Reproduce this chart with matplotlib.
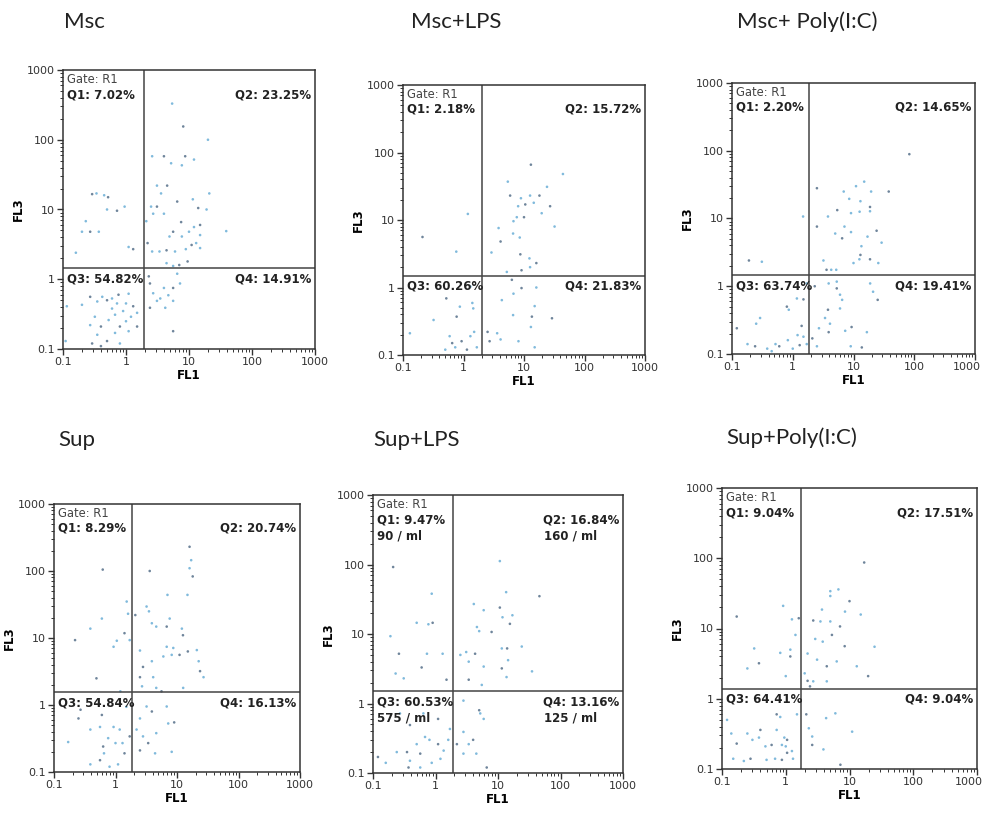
import matplotlib
matplotlib.use("Agg")
import matplotlib.pyplot as plt
import matplotlib.transforms as mtransforms
from matplotlib.ticker import LogLocator, NullFormatter, FixedLocator, FixedFormatter
import numpy as np

plt.rcParams['font.family'] = ['DejaVu Sans']

# panel titles
titles = ['Msc', 'Msc+LPS', 'Msc+ Poly(I:C)', 'Sup', 'Sup+LPS', 'Sup+Poly(I:C)']

# quadrant percentages (Q1, Q2, Q3, Q4)
quad_pct = [
    ['7.02%', '23.25%', '54.82%', '14.91%'],
    ['2.18%', '15.72%', '60.26%', '21.83%'],
    ['2.20%', '14.65%', '63.74%', '19.41%'],
    ['8.29%', '20.74%', '54.84%', '16.13%'],
    ['9.47%', '16.84%', '60.53%', '13.16%'],
    ['9.04%', '17.51%', '64.41%', '9.04%'],
]
# extra concentration lines (only Sup+LPS)
quad_conc = [None, None, None, None, ['90 / ml', '160 / ml', '575 / ml', '125 / ml'], None]

# gate positions (FL1, FL3)
gate_x = [1.9, 2.0, 1.87, 1.87, 1.9, 1.74]
gate_y = [1.45, 1.5, 1.47, 1.55, 1.52, 1.39]

# events (FL1, FL3)
msc_pts = [
    (0.29, 16.6), (0.34, 17), (0.45, 16), (0.52, 15), (0.23, 6.8), (0.2, 4.8), (0.27, 4.8),
    (0.37, 4.8), (0.16, 2.4), (0.72, 9.6), (0.95, 11), (1.1, 2.9), (1.3, 2.7), (0.5, 10),
    (5.4, 330), (8.1, 155), (20, 100), (2.6, 58), (4.0, 58), (5.2, 46), (7.7, 43), (8.7, 58),
    (12, 52), (3.1, 22), (4.5, 22), (3.6, 17), (2.5, 11), (3.1, 11), (2.7, 8.7), (4.0, 8.7),
    (6.5, 13), (11.5, 14), (21, 17), (14, 10.5), (19, 10), (2.1, 6.8), (5.6, 4.8), (4.9, 4.1),
    (7.7, 4.1), (7.5, 6.6), (10, 4.8), (12, 5.6), (15, 6.0), (15, 4.3), (39, 4.9), (2.2, 3.3),
    (2.6, 2.5), (3.4, 2.5), (4.4, 2.6), (6.0, 2.5), (8.9, 2.7), (11, 3.1), (13, 3.3), (15, 2.8),
    (9.5, 1.8), (4.4, 1.7), (5.6, 1.55), (7.0, 1.6),
    (0.115, 0.41), (0.2, 0.43), (0.27, 0.56), (0.35, 0.48), (0.42, 0.56), (0.5, 0.5), (0.6, 0.53),
    (0.72, 0.45), (0.76, 0.6), (1.0, 0.45), (1.1, 0.62), (1.3, 0.41), (1.5, 0.33), (0.32, 0.29),
    (0.4, 0.21), (0.53, 0.26), (0.67, 0.31), (0.8, 0.21), (1.0, 0.25), (1.2, 0.29), (1.5, 0.21),
    (0.27, 0.22), (0.35, 0.16), (0.5, 0.13), (0.67, 0.17), (0.8, 0.12), (0.4, 0.11), (0.11, 0.13),
    (1.1, 0.18), (0.29, 0.12), (0.9, 0.35), (0.6, 0.38),
    (2.4, 0.87), (2.7, 0.63), (3.1, 0.49), (2.4, 0.39), (4.0, 0.75), (4.7, 0.59), (5.6, 0.75),
    (7.2, 0.87), (5.6, 0.49), (5.6, 0.18), (4.2, 0.39), (3.5, 0.53), (2.3, 1.1), (6.5, 1.2),
]
msc_lps_pts = [
    (0.21, 5.6), (0.76, 3.4), (1.18, 12.3),
    (13, 66), (44, 48), (5.4, 37), (5.9, 23), (8.9, 21), (12.6, 23), (18, 23), (24, 31), (8, 16),
    (10.5, 17), (14.5, 18), (19.6, 12.6), (27, 16), (6.7, 9.6), (7.6, 11), (10, 11), (6.6, 6.3),
    (8.5, 5.5), (4.1, 4.8), (3.8, 7.6), (2.9, 3.3), (8.7, 3.1), (12.3, 2.7), (12.6, 2.0), (16, 2.3),
    (32, 8), (5.2, 1.7), (9.1, 1.8),
    (0.13, 0.21), (0.32, 0.33), (0.52, 0.69), (0.87, 0.52), (1.45, 0.49), (0.77, 0.37), (0.59, 0.19),
    (0.73, 0.13), (0.93, 0.16), (1.3, 0.19), (1.5, 0.22), (1.14, 0.12), (1.66, 0.13), (0.5, 0.12),
    (0.65, 0.15), (1.4, 0.59), (1.3, 1.03),
    (2.5, 0.22), (3.6, 0.21), (4.1, 0.17), (2.7, 0.16), (4.3, 0.65), (6.7, 0.81), (9.1, 0.98),
    (16, 1.0), (6.6, 0.39), (13.5, 0.37), (15, 0.53), (13, 0.26), (29, 0.35), (8.1, 0.16),
    (15, 0.13), (6.3, 1.3),
]
msc_poly_pts = [
    (0.19, 2.4), (0.31, 2.3), (1.48, 10.7),
    (83, 89), (15, 35), (11, 30), (2.5, 28), (6.9, 25), (19.5, 25), (38, 25), (8.5, 19.5),
    (13, 18), (18.7, 14.8), (18.7, 12.8), (3.8, 10.7), (5.4, 13.3), (9.1, 12), (12.6, 12.6),
    (2.5, 7.6), (7.1, 7.6), (5.0, 6.0), (6.5, 5.1), (9.1, 6.3), (17, 5.4), (24, 6.6), (29, 4.4),
    (13.5, 3.9), (13, 2.9), (10, 2.2), (12.5, 2.5), (18.7, 2.5), (25.6, 2.2), (3.2, 2.4),
    (3.6, 1.75), (4.3, 1.75), (5.2, 1.75),
    (0.12, 0.24), (0.29, 0.34), (0.25, 0.28), (0.8, 0.5), (0.86, 0.45), (1.17, 0.66), (1.5, 0.64),
    (1.7, 1.1), (0.18, 0.14), (0.24, 0.13), (0.38, 0.12), (0.52, 0.14), (0.6, 0.13), (0.83, 0.16),
    (1.0, 0.12), (1.3, 0.135), (1.7, 0.14), (1.5, 0.18), (1.4, 0.26), (1.2, 0.19), (0.45, 0.11),
    (2.1, 0.17), (2.5, 0.13), (2.7, 0.24), (3.9, 0.21), (4.1, 0.28), (3.4, 0.34), (3.8, 0.45),
    (6.0, 0.47), (6.5, 0.63), (5.3, 0.93), (6.0, 0.75), (7.3, 0.22), (9.3, 0.25), (16.6, 0.21),
    (9.0, 0.13), (13.7, 0.125), (18.8, 1.1), (21, 0.83), (25, 0.63), (5.3, 1.17), (3.9, 1.1),
    (2.3, 1.0),
]
sup_pts = [
    (0.62, 105), (0.60, 19.5), (0.39, 13.8), (0.22, 9.3), (1.05, 9.1), (0.93, 7.4), (0.49, 2.5),
    (1.52, 35), (1.6, 23), (1.4, 11.8), (1.7, 9.3), (1.2, 1.6),
    (16, 230), (17, 145), (16, 110), (18, 83), (7.0, 44), (14.8, 44), (3.6, 100), (3.2, 29.5),
    (3.5, 25), (2.1, 22), (3.9, 16.6), (4.6, 14.8), (6.8, 14.8), (7.6, 19.5), (12, 13.8),
    (12.5, 11), (6.8, 7.4), (8.7, 7.1), (11, 5.6), (8.2, 5.6), (6, 5.3), (15, 6.3), (21, 6.6),
    (22.5, 4.5), (23.7, 3.2), (27, 2.6), (2.5, 6.5), (2.8, 3.7), (3.9, 4.5), (4.1, 2.6), (2.5, 2.6),
    (2.7, 1.9), (4.6, 1.8), (5.6, 1.6), (12.6, 1.8),
    (0.17, 0.28), (0.25, 0.63), (0.39, 0.43), (0.56, 0.47), (0.60, 0.71), (0.93, 0.47), (0.76, 0.32),
    (0.63, 0.24), (1.0, 0.27), (1.3, 0.27), (1.7, 0.34), (1.17, 0.43), (0.39, 0.13), (0.56, 0.15),
    (0.8, 0.12), (1.1, 0.13), (1.4, 0.19), (0.65, 0.19), (1.5, 0.94), (0.27, 0.85),
    (2.5, 0.63), (3.2, 0.95), (3.9, 0.8), (2.2, 0.43), (2.8, 0.34), (3.4, 0.27), (4.6, 0.38),
    (7.2, 0.53), (9.0, 0.55), (8.2, 0.2), (4.4, 0.19), (2.5, 0.21), (6.8, 0.95),
]
sup_lps_pts = [
    (0.21, 92), (0.87, 38), (0.19, 9.3), (0.26, 5.2), (0.5, 14.5), (0.77, 13.8), (0.9, 14.5),
    (0.73, 5.2), (1.3, 5.2), (0.6, 3.3), (0.23, 2.7), (0.31, 2.3), (1.5, 2.2),
    (10.7, 112), (13.5, 40), (46, 35), (4.1, 27), (5.9, 22), (10.7, 24), (11.8, 17.4), (17, 18.6),
    (15.5, 14), (4.6, 12.6), (5, 11), (7.9, 10.7), (24, 6.6), (11.5, 6.2), (14, 6.2), (2.5, 5),
    (3.1, 5.5), (4.3, 5.2), (3.4, 4), (14.5, 4.2), (11.5, 3.2), (13.7, 2.4), (5.9, 3.4), (3.4, 2.2),
    (35, 2.9), (5.5, 1.85),
    (0.12, 0.17), (0.16, 0.14), (0.24, 0.2), (0.35, 0.2), (0.39, 0.15), (0.5, 0.26), (0.57, 0.19),
    (0.68, 0.33), (0.8, 0.3), (1.1, 0.26), (1.35, 0.21), (1.6, 0.3), (0.39, 0.49), (0.27, 0.72),
    (0.64, 0.72), (1.1, 0.6), (1.7, 0.43), (0.57, 0.12), (0.37, 0.12), (0.87, 0.14), (1.2, 0.16),
    (2.2, 0.26), (2.8, 0.39), (3.4, 0.26), (4.0, 0.3), (5.2, 0.72), (5.9, 0.6), (5.0, 0.8),
    (2.8, 0.19), (4.5, 0.19), (6.6, 0.12), (2.8, 1.1),
]
sup_poly_pts = [
    (0.17, 14.8), (0.91, 21), (0.32, 5.2), (0.38, 3.2), (0.25, 2.7), (0.82, 4.5), (1.18, 4.0),
    (1.25, 13.5), (1.42, 8.1), (1.6, 14), (1.0, 2.1), (1.18, 5.0),
    (17, 87), (5.0, 34), (6.7, 36), (10, 24.5), (5.0, 29), (3.7, 18.6), (2.7, 13), (3.5, 12.6),
    (5, 12.6), (7.1, 10.7), (15, 15.8), (8.5, 17.4), (5.3, 8.1), (2.9, 7.1), (3.8, 6.5),
    (8.4, 5.6), (24.7, 5.5), (3.1, 3.6), (4.4, 2.9), (6.3, 3.4), (13, 2.9), (19.6, 2.1), (2.2, 4.4),
    (1.98, 2.3), (2.2, 1.8), (2.7, 1.77), (4.4, 1.77), (2.4, 1.5),
    (0.12, 0.5), (0.14, 0.32), (0.17, 0.23), (0.25, 0.32), (0.3, 0.26), (0.4, 0.36), (0.38, 0.28),
    (0.48, 0.21), (0.6, 0.22), (0.72, 0.36), (0.82, 0.55), (0.72, 0.6), (0.87, 0.22), (1.0, 0.21),
    (1.05, 0.17), (1.25, 0.18), (1.3, 0.14), (1.05, 0.26), (0.15, 0.14), (0.22, 0.13), (0.28, 0.14),
    (0.5, 0.135), (0.68, 0.14), (0.87, 0.135), (1.5, 0.6), (0.95, 0.28),
    (2.1, 0.6), (2.3, 0.38), (2.6, 0.29), (2.6, 0.22), (4.3, 0.53), (3.9, 0.19), (7.2, 0.115),
    (11, 0.34), (6.0, 0.62),
]
all_pts = [msc_pts, msc_lps_pts, msc_poly_pts, sup_pts, sup_lps_pts, sup_poly_pts]

# axes boxes in pixels: left, top, right, bottom
W, H = 988, 813
boxes = [(63, 70, 315, 349), (403, 85, 645, 355), (732, 83, 975, 354),
         (54, 504, 300, 772), (373, 495, 623, 773), (722, 488, 977, 769)]
title_pos = [(64, 22), (411, 22), (737, 22), (58, 440), (373, 440), (726, 438)]

fig = plt.figure(figsize=(W / 100, H / 100), dpi=100)

for i in range(6):
    l, t, r, b = boxes[i]
    ax = fig.add_axes([l / W, 1 - b / H, (r - l) / W, (b - t) / H])
    pts = np.array(all_pts[i])
    # flow cytometer look: mostly light blue events, some darker ones
    cols = ['#6aaed6' if k % 3 else '#56708a' for k in range(len(pts))]
    ax.scatter(pts[:, 0], pts[:, 1], s=3.5, c=cols, alpha=0.85, linewidths=0)
    ax.set_xscale('log')
    ax.set_yscale('log')
    ax.set_xlim(0.1, 1000)
    ax.set_ylim(0.1, 1000)
    ax.axvline(gate_x[i], color='#444444', lw=1.1)
    ax.axhline(gate_y[i], color='#444444', lw=1.1)
    for s in ax.spines.values():
        s.set_linewidth(1.1)
        s.set_color('#333333')

    ticks = [0.1, 1, 10, 100, 1000]
    labs = ['0.1', '1', '10', '100', '1000']
    for axis in (ax.xaxis, ax.yaxis):
        axis.set_major_locator(FixedLocator(ticks))
        axis.set_major_formatter(FixedFormatter(labs))
        axis.set_minor_locator(LogLocator(base=10, subs=np.arange(2, 10), numticks=20))
        axis.set_minor_formatter(NullFormatter())
    ax.tick_params(which='major', length=4, width=1, labelsize=8, colors='#333333', pad=2)
    ax.tick_params(which='minor', length=2, width=0.7, colors='#333333')
    ax.set_xlabel('FL1', fontsize=8.5, fontweight='bold', labelpad=1)
    ax.set_ylabel('FL3', fontsize=8.5, fontweight='bold', labelpad=1)

    # keep the last x tick label inside the figure at the right edge
    if r > W - 15:
        last = ax.get_xticklabels()[-1]
        last.set_transform(last.get_transform() + mtransforms.ScaledTranslation(-6 / 72, 0, fig.dpi_scale_trans))

    q1, q2, q3, q4 = quad_pct[i]
    kw = dict(fontsize=8.5, fontweight='bold', color='#222222')
    ax.text(0.015, 0.99, 'Gate: R1', transform=ax.transAxes, ha='left', va='top',
            fontsize=8.3, color='#444444')
    ax.text(0.015, 0.935, 'Q1: ' + q1, transform=ax.transAxes, ha='left', va='top', **kw)
    ax.text(0.985, 0.935, 'Q2: ' + q2, transform=ax.transAxes, ha='right', va='top', **kw)
    trans = mtransforms.blended_transform_factory(ax.transAxes, ax.transData)
    off = mtransforms.offset_copy(trans, fig=fig, y=-3, units='points')
    ax.text(0.015, gate_y[i], 'Q3: ' + q3, transform=off, ha='left', va='top', **kw)
    ax.text(0.985, gate_y[i], 'Q4: ' + q4, transform=off, ha='right', va='top', **kw)
    if quad_conc[i] is not None:
        c1, c2, c3, c4 = quad_conc[i]
        ax.text(0.015, 0.875, c1, transform=ax.transAxes, ha='left', va='top', **kw)
        ax.text(0.685, 0.875, c2, transform=ax.transAxes, ha='left', va='top', **kw)
        off2 = mtransforms.offset_copy(trans, fig=fig, y=-15, units='points')
        ax.text(0.015, gate_y[i], c3, transform=off2, ha='left', va='top', **kw)
        ax.text(0.685, gate_y[i], c4, transform=off2, ha='left', va='top', **kw)

    tx, ty = title_pos[i]
    fig.text(tx / W, 1 - ty / H, titles[i], ha='left', va='center', fontsize=16,
             family=['Lato', 'DejaVu Sans'], color='#222222')

fig.savefig('out.png', dpi=100)
